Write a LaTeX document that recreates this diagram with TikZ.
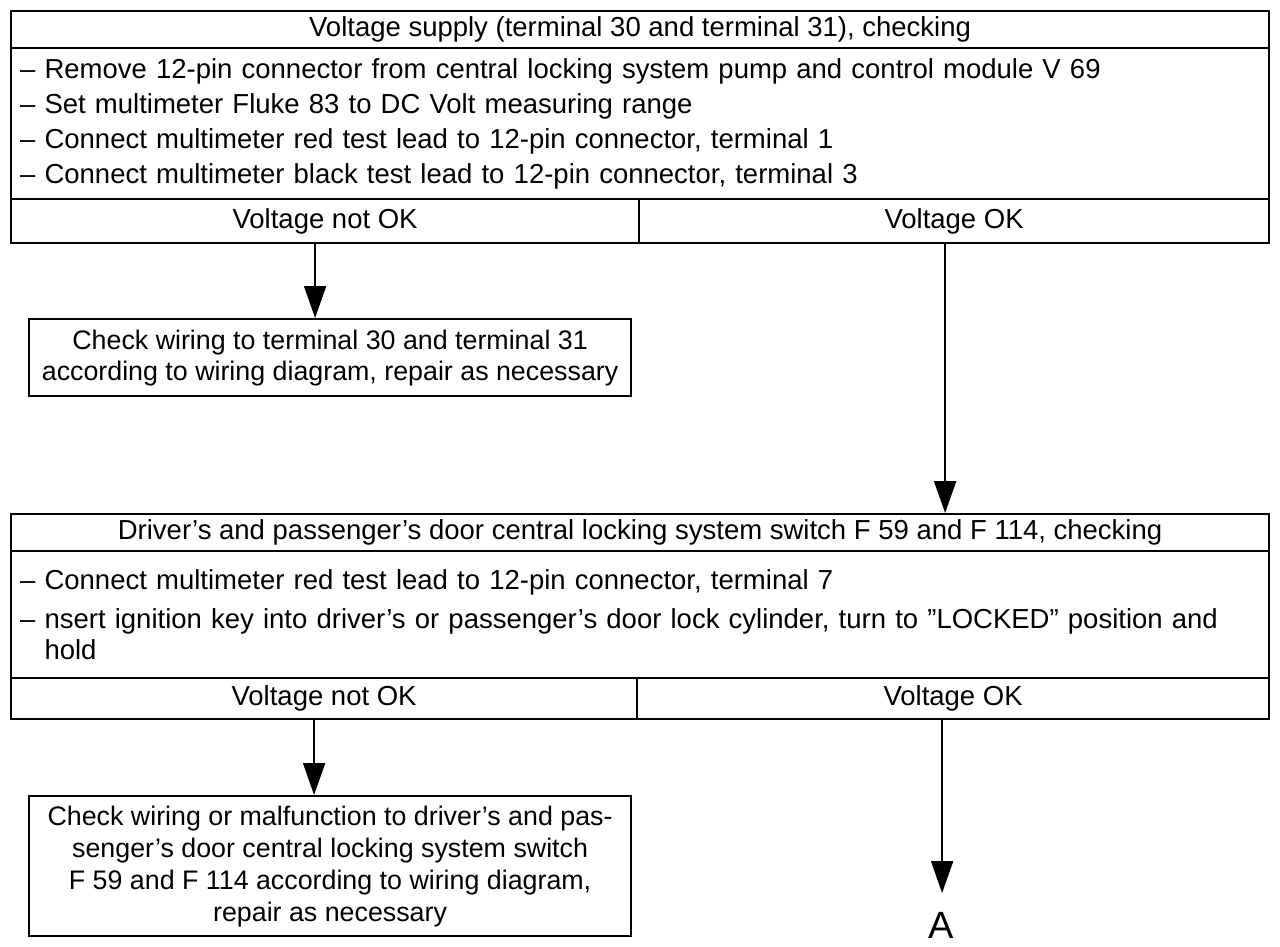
\documentclass[tikz,border=0pt]{standalone}
\usepackage{fontspec}
\setmainfont{Liberation Sans}
\usetikzlibrary{arrows.meta}
\begin{document}
\begin{tikzpicture}[x=1pt,y=-1pt,
  cell/.style={draw,line width=2.2pt,inner sep=0pt,anchor=north west,
    font=\fontsize{27.5}{35}\selectfont},
  arr/.style={line width=2pt,-{Triangle[width=22pt,length=32pt]}}]
\useasboundingbox (0,0) rectangle (1280,946);
% first check
\node[cell,minimum width=1258pt,minimum height=37pt] (t1) at (10,10)
  {Voltage supply (terminal 30 and terminal 31), checking};
\node[cell,minimum width=1258pt,minimum height=151pt,text width=1240pt,align=left] (b1) at (10,47)
  {– Remove 12-pin connector from central locking system pump and control module V 69\\
   – Set multimeter Fluke 83 to DC Volt measuring range\\
   – Connect multimeter red test lead to 12-pin connector, terminal 1\\
   – Connect multimeter black test lead to 12-pin connector, terminal 3};
\node[cell,minimum width=628pt,minimum height=44pt] (n1) at (10,198) {Voltage not OK};
\node[cell,minimum width=630pt,minimum height=44pt] (k1) at (638,198) {Voltage OK};
\node[cell,minimum width=602pt,minimum height=77pt,align=center,
  font=\fontsize{26.8}{31}\selectfont] (c1) at (28,318)
  {Check wiring to terminal 30 and terminal 31\\according to wiring diagram, repair as necessary};
% second check
\node[cell,minimum width=1258pt,minimum height=37pt] (t2) at (10,513)
  {Driver’s and passenger’s door central locking system switch F 59 and F 114, checking};
\node[cell,minimum width=1258pt,minimum height=127pt,text width=1240pt,align=left,
  font=\fontsize{27.5}{31}\selectfont] (b2) at (10,550)
  {– Connect multimeter red test lead to 12-pin connector, terminal 7\\[8pt]
   – nsert ignition key into driver’s or passenger’s door lock cylinder, turn to ”LOCKED” position and\\
   \phantom{– }hold};
\node[cell,minimum width=626pt,minimum height=41pt] (n2) at (10,677) {Voltage not OK};
\node[cell,minimum width=632pt,minimum height=41pt] (k2) at (636,677) {Voltage OK};
\node[cell,minimum width=602pt,minimum height=140pt,align=center,
  font=\fontsize{26.8}{32}\selectfont] (c2) at (28,795)
  {Check wiring or malfunction to driver’s and pas-\\senger’s door central locking system switch\\F 59 and F 114 according to wiring diagram,\\repair as necessary};
\node[anchor=north,inner sep=0pt,font=\fontsize{38}{40}\selectfont] (A) at (941,912) {A};
% connectors
\draw[arr] (n1.south) ++(-10,0) coordinate (s1) -- (s1 |- c1.north);
\draw[arr] (k1.south) ++(-9,0) coordinate (s2) -- (s2 |- t2.north);
\draw[arr] (n2.south) ++(-10,0) coordinate (s3) -- (s3 |- c2.north);
\draw[arr,shorten >=19pt] (k2.south) ++(-11,0) coordinate (s4) -- (s4 |- A.north);
\end{tikzpicture}
\end{document}
